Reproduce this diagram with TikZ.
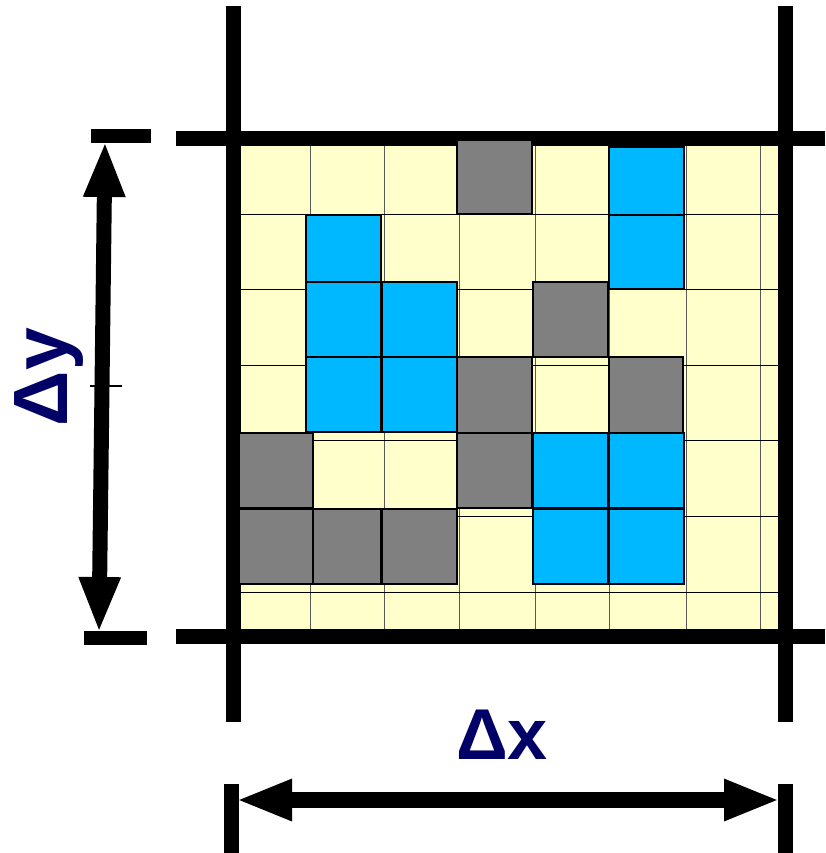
\documentclass[tikz,border=0pt]{standalone}
\usepackage{fontspec}
\setmainfont{Liberation Sans}
\usetikzlibrary{arrows.meta}
\definecolor{cellyellow}{RGB}{255,255,204}
\definecolor{cellblue}{RGB}{0,184,255}
\definecolor{cellgray}{RGB}{128,128,128}
\definecolor{labelnavy}{RGB}{0,0,102}
\begin{document}
\begin{tikzpicture}[x=1pt,y=-1pt,
  thickline/.style={line width=15pt, black, line cap=butt},
  vgridline/.style={line width=1pt, black!65},
  hgridline/.style={line width=1pt, black},
  graycell/.style={fill=cellgray, draw=black, line width=1.6pt},
  bluecell/.style={fill=cellblue, draw=black, line width=1.6pt},
  dimarrow/.style={line width=16pt, {Triangle[length=56pt,width=38pt]}-{Triangle[length=56pt,width=38pt]}},
  vdimarrow/.style={line width=15pt, {Triangle[length=56pt,width=38pt]}-{Triangle[length=56pt,width=38pt]}},
  dimtick/.style={line width=15pt, line cap=butt},
  dimlabel/.style={text=labelnavy, font=\bfseries\fontsize{72}{72}\selectfont, inner sep=0pt}
]
\useasboundingbox (0,0) rectangle (825,853);
% yellow field
\fill[cellyellow] (234,138) rectangle (785,636);
% thin grid
\foreach \gx in {310,384,459,535,609,686,760}
  \draw[vgridline] (\gx,138) -- (\gx,636);
\foreach \gy in {214,289,365,440,516,592}
  \draw[hgridline] (234,\gy) -- (785,\gy);
% thick cell boundary lines
\draw[thickline] (233.5,6) -- (233.5,722);
\draw[thickline] (785,6) -- (785,722);
\draw[thickline] (176,138.5) -- (825,138.5);
\draw[thickline] (176,636.5) -- (825,636.5);
% gray cells
\foreach \ax/\ay/\bx/\by in {457/140/532/214, 533/282/608/357, 457/357/532/433, 609/357/683/433,
  457/433/532/508, 239/433/313/508, 239/509/313/584, 313/509/381/584, 382/509/457/584}
  \draw[graycell] (\ax,\ay) rectangle (\bx,\by);
% blue cells
\foreach \ax/\ay/\bx/\by in {609/147/684/215, 609/215/684/289, 306/215/381/282, 306/282/381/357,
  382/282/457/357, 306/357/381/432, 382/357/457/432, 533/433/608/508, 609/433/684/508,
  533/509/608/584, 609/509/684/584}
  \draw[bluecell] (\ax,\ay) rectangle (\bx,\by);
% horizontal dimension
\coordinate (xl1) at (231,784);
\coordinate (xl2) at (231,853);
\coordinate (xr1) at (785,784);
\coordinate (xr2) at (785,853);
\coordinate (xa) at (236,800);
\coordinate (xb) at (780,800);
\draw[dimtick] (xl1) -- (xl2);
\draw[dimtick] (xr1) -- (xr2);
\draw[dimarrow] (xa) -- (xb);
\node[dimlabel, anchor=base] (dx) at (502,759) {Δx};
% vertical dimension
\coordinate (yt1) at (91,136.5);
\coordinate (yt2) at (151,136.5);
\coordinate (yb1) at (84,638);
\coordinate (yb2) at (147,638);
\coordinate (ya) at (105,141);
\coordinate (yb) at (99,633);
\coordinate (ym1) at (90,386);
\coordinate (ym2) at (122,386);
\draw[line width=14pt, line cap=butt] (yt1) -- (yt2);
\draw[line width=14pt, line cap=butt] (yb1) -- (yb2);
\draw[vdimarrow] (ya) -- (yb);
\draw[line width=1.6pt] (ym1) -- (ym2);
\node[dimlabel, anchor=base, rotate=90, font=\bfseries\fontsize{77}{77}\selectfont] (dy) at (67,377) {Δy};
\end{tikzpicture}
\end{document}
